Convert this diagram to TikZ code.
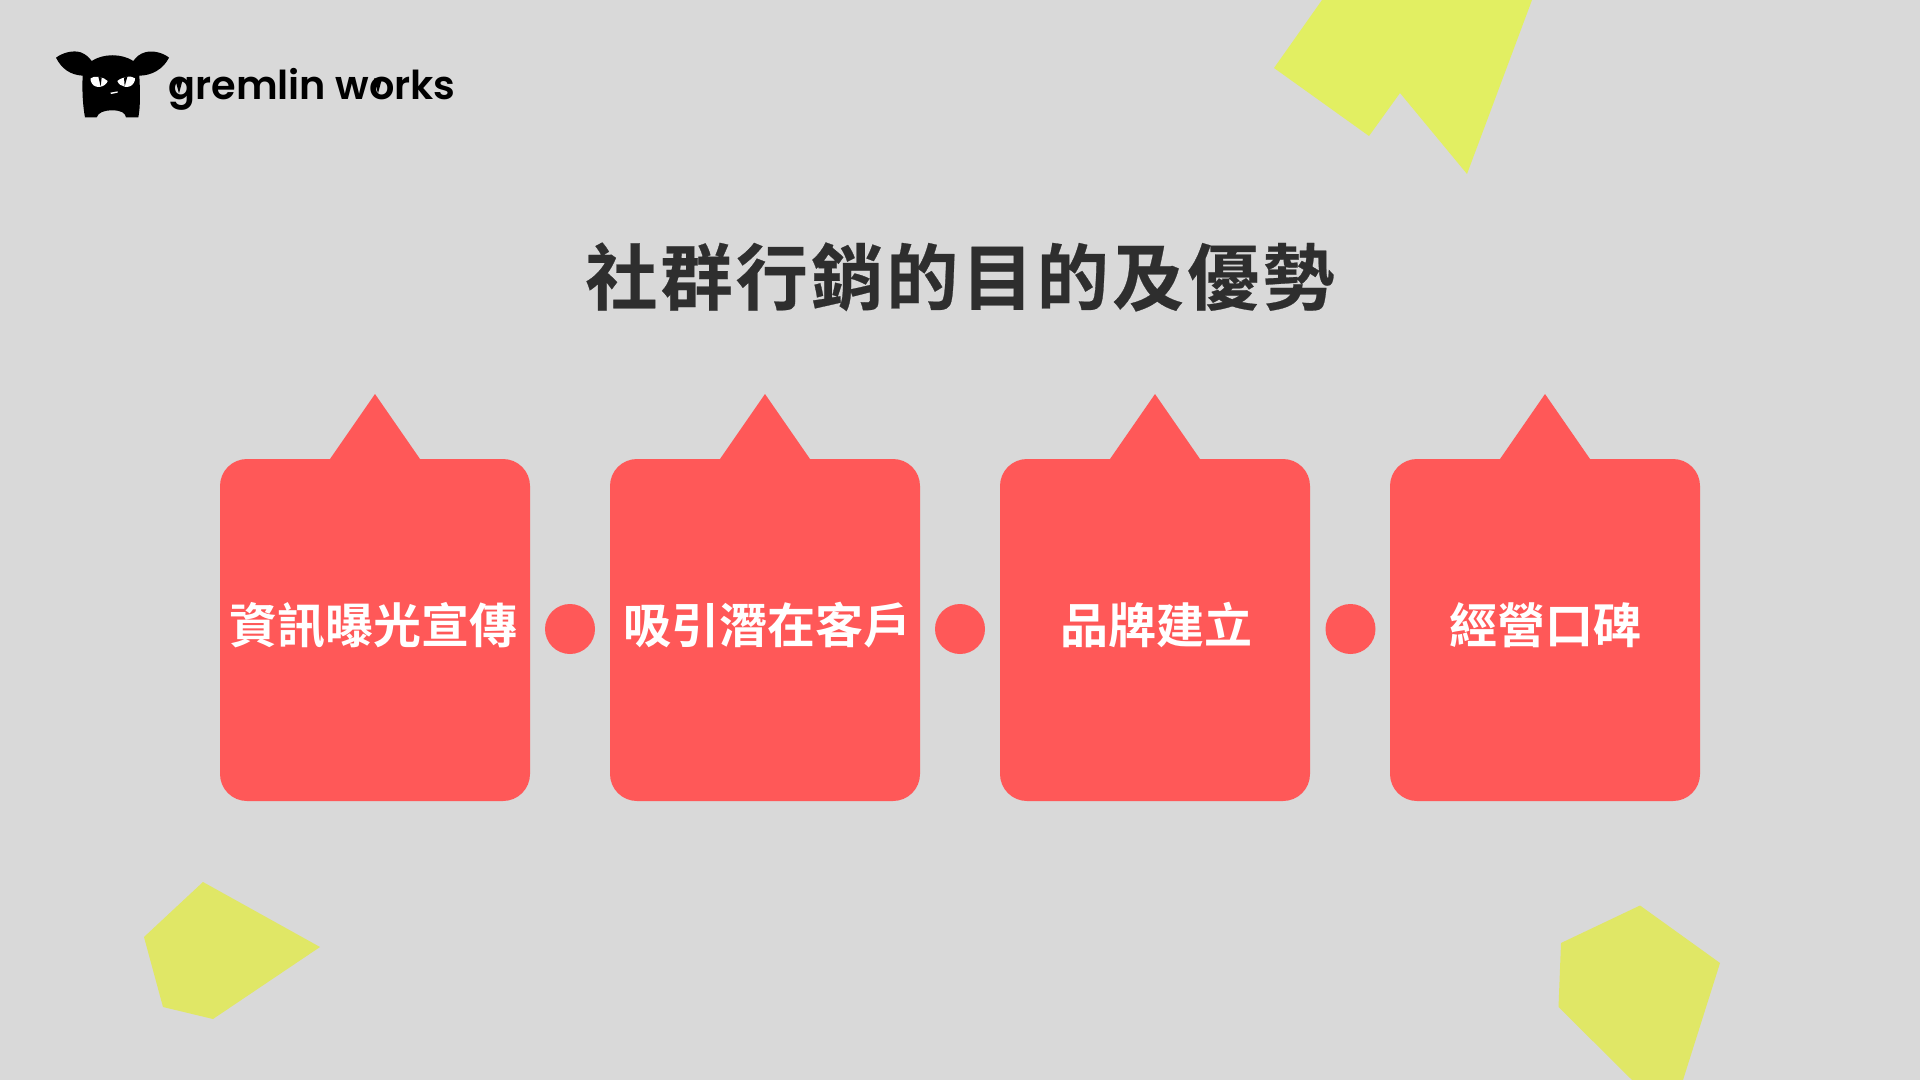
\documentclass[tikz,border=0pt]{standalone}
\usepackage{fontspec}
\newfontfamily\cjkb{Noto Sans CJK TC Bold}
\newfontfamily\cjkt[FakeBold=0.35,LetterSpace=4.5]{Noto Sans CJK TC Bold}
\newfontfamily\logof{Poppins SemiBold}
\definecolor{bg}{HTML}{D9D9D9}
\definecolor{redbox}{HTML}{FF5858}
\definecolor{yellowa}{HTML}{E2EF62}
\definecolor{yellowb}{HTML}{E0E766}
\definecolor{ink}{HTML}{2E2E2E}
\tikzset{
  tabbox/.style={fill=redbox,draw=none},
  dotnode/.style={circle,fill=redbox,draw=none,minimum size=25pt,inner sep=0pt},
  boxtext/.style={text=white,font=\cjkb\fontsize{24}{24}\selectfont,inner sep=0pt},
  titletext/.style={text=ink,font=\cjkt\fontsize{36}{36}\selectfont,inner sep=0pt},
  shard/.style={draw=none},
}
\begin{document}
\begin{tikzpicture}[x=0.5pt,y=-0.5pt]
\useasboundingbox (0,0) rectangle (1920,1080);
\fill[bg] (0,0) rectangle (1920,1080);
% yellow shards
\fill[yellowa,shard] (1322,0) -- (1274,68) -- (1369,136) -- (1400,93) -- (1467,174) -- (1532,0) -- cycle;
\fill[yellowb,shard] (203,882) -- (320,947) -- (213,1019) -- (163,1007) -- (144,937) -- cycle;
\fill[yellowb,shard] (1640,905.5) -- (1720,963) -- (1683,1080) -- (1632,1080) -- (1558.5,1007) -- (1561,943) -- cycle;
% logo mark
\begin{scope}[shift={(50,45)},x=0.1667pt,y=-0.1667pt]
\fill[black] (18,38) .. controls (40,22) and (70,15) .. (92,22)
  .. controls (108,28) and (118,38) .. (125,48)
  .. controls (160,25) and (215,25) .. (250,48)
  .. controls (258,36) and (270,26) .. (285,22)
  .. controls (310,15) and (340,24) .. (357,38)
  .. controls (340,72) and (305,92) .. (268,92)
  .. controls (270,135) and (272,180) .. (265,217)
  -- (228,217) .. controls (226,203) and (212,196) .. (187,196)
  .. controls (160,196) and (145,203) .. (140,217)
  -- (105,217) .. controls (98,180) and (96,135) .. (98,92)
  .. controls (62,90) and (35,72) .. (18,38) -- cycle;
\fill[white] (122,100) .. controls (132,90) and (162,96) .. (173,108)
  .. controls (168,126) and (135,134) .. (125,114)
  .. controls (122,108) and (121,104) .. (122,100) -- cycle;
\fill[white] (255,100) .. controls (245,90) and (215,96) .. (202,108)
  .. controls (208,126) and (240,134) .. (251,114)
  .. controls (254,108) and (256,104) .. (255,100) -- cycle;
\fill[black] (145,95) -- (155,98) -- (152,124) -- cycle;
\fill[black] (222,98) -- (232,95) -- (224,124) -- cycle;
\fill[white] (181,143) -- (203,139) -- (203,143) -- (183,147) -- cycle;
\end{scope}
\node[inner sep=0pt,anchor=base west,text=black,font=\logof\fontsize{19.9}{19.9}\selectfont] (logo) at (168,99.5) {gremlin works};
\fill[black] (175,78.5) -- (183,78.5) -- (179,93.5) -- cycle;
\fill[black] (374,78.5) -- (382,78.5) -- (378,93.5) -- cycle;
% title
\node[titletext] (title) at (960,277) {社群行銷的目的及優勢};
% boxes
\foreach \n/\x in {a/220,b/610,c/1000,d/1390}{
  \fill[tabbox] (\x+27,459) -- (\x+110,459) -- (\x+155,394) -- (\x+200,459) -- (\x+283,459)
    arc[start angle=90,end angle=0,x radius=27,y radius=-27]
    -- (\x+310,774)
    arc[start angle=0,end angle=-90,x radius=27,y radius=-27]
    -- (\x+27,801)
    arc[start angle=270,end angle=180,x radius=27,y radius=-27]
    -- (\x,486)
    arc[start angle=180,end angle=90,x radius=27,y radius=-27] -- cycle;
}
\node[boxtext] (t1) at (373,625) {資訊曝光宣傳};
\node[boxtext] (t2) at (767,625) {吸引潛在客戶};
\node[boxtext] (t3) at (1156,625) {品牌建立};
\node[boxtext] (t4) at (1545,625) {經營口碑};
\node[dotnode] (d1) at (570,629) {};
\node[dotnode] (d2) at (960,629) {};
\node[dotnode] (d3) at (1350.5,629) {};
\end{tikzpicture}
\end{document}
